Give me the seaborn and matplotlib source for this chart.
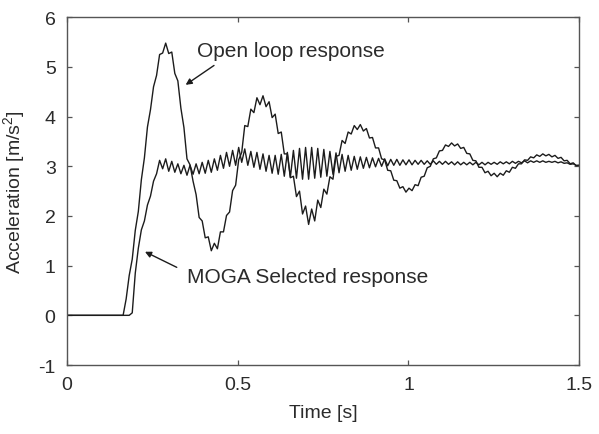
import numpy as np
import pandas as pd
import matplotlib
matplotlib.use("Agg")
import matplotlib.pyplot as plt
import seaborn as sns

# sample times: the flat start, then a regular grid (half a ripple period apart)
time = np.concatenate([[0.0], np.linspace(0.165, 1.5, 151)])

# values, one per sample time
open_loop = [
    0.00,
    0.00, 0.33, 0.80, 1.13, 1.71, 2.09, 2.73, 3.17, 3.79, 4.14,
    4.60, 4.83, 5.25, 5.28, 5.48, 5.27, 5.30, 4.87, 4.72, 4.17,
    3.78, 3.15, 3.03, 2.70, 2.43, 1.97, 1.90, 1.56, 1.58, 1.30,
    1.45, 1.34, 1.68, 1.68, 2.01, 2.08, 2.51, 2.62, 3.13, 3.28,
    3.82, 3.80, 4.15, 4.08, 4.38, 4.24, 4.42, 4.20, 4.30, 3.98,
    4.05, 3.66, 3.69, 3.25, 3.25, 2.77, 2.80, 2.39, 2.50, 2.04,
    2.20, 1.83, 2.14, 1.90, 2.32, 2.17, 2.54, 2.44, 2.79, 2.74,
    3.20, 3.22, 3.52, 3.46, 3.69, 3.65, 3.82, 3.74, 3.84, 3.71,
    3.76, 3.57, 3.58, 3.37, 3.37, 3.15, 3.13, 2.92, 2.91, 2.72,
    2.71, 2.56, 2.59, 2.48, 2.56, 2.51, 2.63, 2.61, 2.78, 2.80,
    2.97, 3.00, 3.15, 3.17, 3.31, 3.32, 3.43, 3.40, 3.47, 3.41,
    3.45, 3.36, 3.38, 3.26, 3.25, 3.12, 3.11, 2.98, 2.98, 2.87,
    2.90, 2.81, 2.86, 2.79, 2.86, 2.82, 2.91, 2.88, 2.98, 2.96,
    3.05, 3.05, 3.13, 3.12, 3.19, 3.17, 3.23, 3.20, 3.25, 3.21,
    3.24, 3.19, 3.22, 3.16, 3.18, 3.11, 3.12, 3.05, 3.07, 3.01,
    3.02,
]

moga = [
    0.00,
    0.00, 0.00, 0.00, 0.05, 0.85, 1.35, 1.72, 1.90, 2.22, 2.40,
    2.70, 2.85, 3.12, 2.95, 3.15, 2.90, 3.10, 2.88, 3.05, 2.85,
    3.02, 2.82, 3.02, 2.84, 3.05, 2.85, 3.08, 2.86, 3.12, 2.88,
    3.15, 2.92, 3.22, 2.96, 3.28, 3.00, 3.32, 3.02, 3.38, 3.08,
    3.35, 3.02, 3.30, 2.98, 3.28, 2.94, 3.25, 2.90, 3.22, 2.86,
    3.22, 2.84, 3.24, 2.80, 3.28, 2.78, 3.32, 2.76, 3.36, 2.74,
    3.38, 2.74, 3.38, 2.76, 3.36, 2.78, 3.34, 2.80, 3.30, 2.84,
    3.27, 2.87, 3.24, 2.90, 3.22, 2.92, 3.20, 2.94, 3.19, 2.96,
    3.18, 2.97, 3.17, 2.99, 3.16, 3.00, 3.15, 3.01, 3.14, 3.02,
    3.14, 3.02, 3.13, 3.03, 3.13, 3.03, 3.12, 3.04, 3.12, 3.04,
    3.11, 3.04, 3.11, 3.04, 3.10, 3.04, 3.10, 3.04, 3.09, 3.03,
    3.09, 3.03, 3.08, 3.03, 3.08, 3.03, 3.08, 3.03, 3.08, 3.03,
    3.08, 3.04, 3.08, 3.04, 3.09, 3.05, 3.09, 3.05, 3.10, 3.06,
    3.10, 3.07, 3.11, 3.07, 3.11, 3.08, 3.11, 3.08, 3.11, 3.08,
    3.10, 3.08, 3.10, 3.07, 3.09, 3.06, 3.07, 3.04, 3.05, 3.02,
    3.02,
]

x_ticks = [0, 0.5, 1, 1.5]
x_tick_labels = ["0", "0.5", "1", "1.5"]
y_ticks = [-1, 0, 1, 2, 3, 4, 5, 6]

df = pd.DataFrame({"time": time, "open_loop": open_loop, "moga": moga})

sns.set_theme(style="ticks")
plt.rcParams["font.family"] = ["Liberation Sans", "DejaVu Sans"]
plt.rcParams["mathtext.default"] = "regular"
plt.rcParams["axes.unicode_minus"] = False

line_col = "#1c1c1c"
axis_col = "#555555"
text_col = "#2b2b2b"

fig = plt.figure(figsize=(5.99, 4.35), dpi=100)
ax = fig.add_axes([0.1114, 0.1586, 0.8557, 0.7994])

sns.lineplot(data=df, x="time", y="open_loop", ax=ax, color=line_col, lw=1.0)
sns.lineplot(data=df, x="time", y="moga", ax=ax, color=line_col, lw=1.0)

ax.set_xlim(0, 1.5)
ax.set_ylim(-1, 6)
ax.set_xticks(x_ticks)
ax.set_xticklabels(x_tick_labels)
ax.set_yticks(y_ticks)
ax.tick_params(direction="in", length=3.5, width=0.9, top=True, right=True,
               labelsize=14, pad=8, color=axis_col, labelcolor=text_col)
for sp in ax.spines.values():
    sp.set_visible(True)
    sp.set_color(axis_col)
    sp.set_linewidth(1.0)

ax.set_xlabel("Time [s]", fontsize=14, color=text_col, labelpad=8)
ax.set_ylabel("Acceleration [m/s$^2$]", fontsize=14, color=text_col)
ax.yaxis.set_label_coords(-0.078, 0.5)

arrow = dict(arrowstyle="-|>", color=line_col, lw=1.0, mutation_scale=9,
             shrinkA=0, shrinkB=0)
ax.annotate("", xy=(0.348, 4.64), xytext=(0.431, 5.03), arrowprops=arrow)
ax.annotate("", xy=(0.229, 1.28), xytext=(0.322, 0.966), arrowprops=arrow)
ax.text(0.381, 5.23, "Open loop response", fontsize=15, color=text_col,
        ha="left", va="baseline")
ax.text(0.352, 0.664, "MOGA Selected response", fontsize=15, color=text_col,
        ha="left", va="baseline")

fig.savefig("out.png", dpi=100)
